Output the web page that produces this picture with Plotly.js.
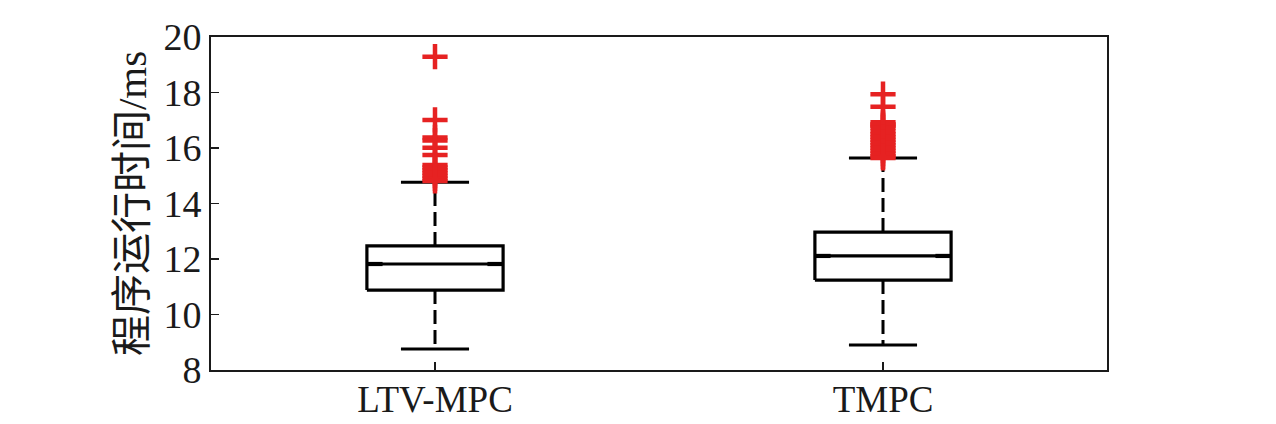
<!DOCTYPE html>
<html>
<head>
<meta charset="utf-8">
<script src="https://cdn.plot.ly/plotly-3.0.1.min.js"></script>
<style>html,body{margin:0;padding:0;background:#fff;}#chart{width:1276px;height:424px;}</style>
</head>
<body>
<div id="chart"></div>
<script>
// ---- data ----
const categories = ["LTV-MPC", "TMPC"];
const q1Values = [10.88, 11.24];
const medianValues = [11.82, 12.11];
const q3Values = [12.47, 12.97];
const lowerWhisker = [8.76, 8.90];
const upperWhisker = [14.77, 15.64];
const outliersLTV = [19.29, 17.01, 16.38, 16.27, 16.01, 15.75, 15.39, 15.30, 15.20, 15.10, 15.00, 14.90, 14.81];
const outliersTMPC = [17.94, 17.49, 16.93, 16.86, 16.80, 16.74, 16.60, 16.50, 16.40, 16.30, 16.20, 16.10, 16.00, 15.90, 15.80, 15.70, 15.64];
const outlierSets = [outliersLTV, outliersTMPC];
const yTickVals = [8, 10, 12, 14, 16, 18, 20];

// ---- drawing ----
const positions = [1, 2];
const halfBox = 0.152;
const halfCap = 0.076;
const black = '#000000';
const red = '#e62222';
const traces = [];

positions.forEach((p, i) => {
  traces.push({x:[p,p], y:[q3Values[i], upperWhisker[i]], mode:'lines',
    line:{color:black, width:3, dash:'14px,6px'}, hoverinfo:'skip', showlegend:false});
  traces.push({x:[p,p], y:[q1Values[i], lowerWhisker[i]], mode:'lines',
    line:{color:black, width:3, dash:'14px,6px'}, hoverinfo:'skip', showlegend:false});
  traces.push({x:[p-halfCap,p+halfCap], y:[upperWhisker[i],upperWhisker[i]], mode:'lines',
    line:{color:black, width:3}, hoverinfo:'skip', showlegend:false});
  traces.push({x:[p-halfCap,p+halfCap], y:[lowerWhisker[i],lowerWhisker[i]], mode:'lines',
    line:{color:black, width:3}, hoverinfo:'skip', showlegend:false});
  traces.push({x:[p-halfBox,p+halfBox,p+halfBox,p-halfBox,p-halfBox],
    y:[q1Values[i],q1Values[i],q3Values[i],q3Values[i],q1Values[i]], mode:'lines',
    line:{color:black, width:3.2}, hoverinfo:'skip', showlegend:false});
  traces.push({x:[p-halfBox,p+halfBox], y:[medianValues[i],medianValues[i]], mode:'lines',
    line:{color:black, width:3.2}, hoverinfo:'skip', showlegend:false});
  traces.push({x:[p-halfBox,p-halfBox+0.035], y:[medianValues[i],medianValues[i]], mode:'lines',
    line:{color:black, width:4.2}, hoverinfo:'skip', showlegend:false});
  traces.push({x:[p+halfBox-0.035,p+halfBox], y:[medianValues[i],medianValues[i]], mode:'lines',
    line:{color:black, width:4.2}, hoverinfo:'skip', showlegend:false});
  traces.push({x:outlierSets[i].map(()=>p), y:outlierSets[i], mode:'markers',
    marker:{symbol:'cross-thin', size:18, line:{color:red, width:4.5}, color:red},
    hoverinfo:'skip', showlegend:false});
});

const layout = {
  width:1276, height:424,
  margin:{l:211, r:169, t:37, b:54},
  paper_bgcolor:'#ffffff', plot_bgcolor:'#ffffff',
  showlegend:false,
  font:{family:'"Liberation Serif", "Times New Roman", serif', color:'#1a1a1a'},
  xaxis:{
    range:[0.5, 2.5], tickmode:'array', tickvals:positions, ticktext:categories,
    ticks:'inside', ticklen:8, tickwidth:1.5, tickcolor:'#1a1a1a',
    showline:true, linecolor:'#1a1a1a', linewidth:2, mirror:true,
    showgrid:false, zeroline:false, ticklabelstandoff:-4,
    tickfont:{size:37, family:'"Liberation Serif", serif', color:'#1a1a1a'}
  },
  yaxis:{
    range:[8, 20], tickmode:'array', tickvals:yTickVals,
    ticks:'inside', ticklen:8, tickwidth:1.5, tickcolor:'#1a1a1a',
    showline:true, linecolor:'#1a1a1a', linewidth:2, mirror:true,
    showgrid:false, zeroline:false,
    tickfont:{size:38, family:'"Liberation Serif", serif', color:'#1a1a1a'},
    title:{text:'程序运行时间/ms', standoff:4,
      font:{size:41, family:'"Liberation Serif", "Noto Sans CJK SC", serif', color:'#1a1a1a'}}
  }
};

Plotly.newPlot('chart', traces, layout, {staticPlot:true, displayModeBar:false});
</script>
</body>
</html>
